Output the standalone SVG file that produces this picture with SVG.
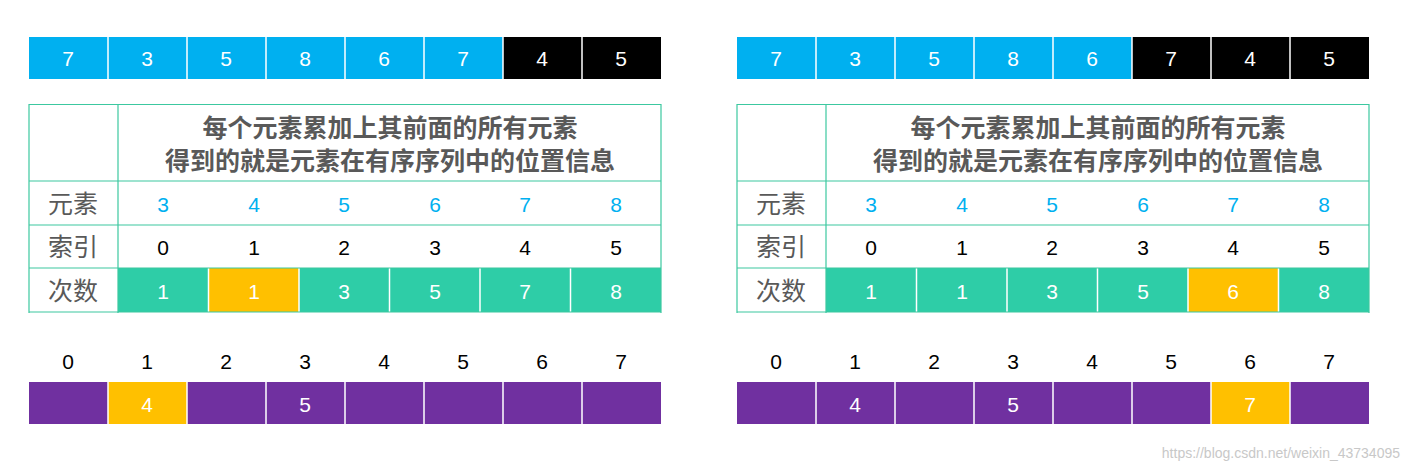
<svg xmlns="http://www.w3.org/2000/svg" width="1415" height="471" viewBox="0 0 1415 471">
<style>
text{font-family:"Liberation Sans","Noto Sans CJK SC",sans-serif;text-anchor:middle;dominant-baseline:central}
.n{font-size:21px;fill:#fff}
.b{font-size:21px;fill:#000}
.e{font-size:21px;fill:#00B0F0}
.l{font-size:25px;fill:#595959}
.h{font-size:25px;font-weight:bold;fill:#595959}
.g{stroke:#3CC8A0;stroke-width:1.2;fill:none}
.s{stroke:#fff;stroke-width:1.5}
</style>
<rect width="1415" height="471" fill="#fff"/>
<g id="left">
<g id="L-top">
<rect x="29" y="37" width="474" height="42" fill="#00B0F0"/><rect x="503" y="37" width="158" height="42" fill="#000"/>
<path class="s" d="M108 37V79M187 37V79M266 37V79M345 37V79M424 37V79M503 37V79M582 37V79"/>
<text class="n" x="68" y="58">7</text><text class="n" x="147" y="58">3</text><text class="n" x="226" y="58">5</text><text class="n" x="305" y="58">8</text><text class="n" x="384" y="58">6</text><text class="n" x="463" y="58">7</text><text class="n" x="542" y="58">4</text><text class="n" x="621" y="58">5</text>
</g>
<g id="L-table">
<rect x="118" y="268" width="543" height="44" fill="#2ECDA7"/><rect x="208.5" y="268" width="90.5" height="44" fill="#FFC000"/>
<path class="s" d="M208.5 268V312M299 268V312M389.5 268V312M480 268V312M570.5 268V312"/>
<path class="g" d="M29 104.5H661M29 181H661M29 225H661M29 268H661M29 312H661M29 104V313M118 104V313M661 104V313"/>
<text class="h" x="390" y="128">每个元素累加上其前面的所有元素</text>
<text class="h" x="390" y="161">得到的就是元素在有序序列中的位置信息</text>
<text class="l" x="73" y="204">元素</text><text class="l" x="73" y="247">索引</text><text class="l" x="73" y="291">次数</text>
<text class="e" x="163" y="204">3</text><text class="e" x="254" y="204">4</text><text class="e" x="344" y="204">5</text><text class="e" x="435" y="204">6</text><text class="e" x="525" y="204">7</text><text class="e" x="616" y="204">8</text>
<text class="b" x="163" y="247">0</text><text class="b" x="254" y="247">1</text><text class="b" x="344" y="247">2</text><text class="b" x="435" y="247">3</text><text class="b" x="525" y="247">4</text><text class="b" x="616" y="247">5</text>
<text class="n" x="163" y="291">1</text><text class="n" x="254" y="291">1</text><text class="n" x="344" y="291">3</text><text class="n" x="435" y="291">5</text><text class="n" x="525" y="291">7</text><text class="n" x="616" y="291">8</text>
</g>
<g id="L-bottom">
<text class="b" x="68" y="361">0</text><text class="b" x="147" y="361">1</text><text class="b" x="226" y="361">2</text><text class="b" x="305" y="361">3</text><text class="b" x="384" y="361">4</text><text class="b" x="463" y="361">5</text><text class="b" x="542" y="361">6</text><text class="b" x="621" y="361">7</text>
<rect x="29" y="382" width="632" height="42" fill="#7030A0"/><rect x="108" y="382" width="79" height="42" fill="#FFC000"/>
<path class="s" d="M108 382V424M187 382V424M266 382V424M345 382V424M424 382V424M503 382V424M582 382V424"/>
<text class="n" x="147" y="404">4</text><text class="n" x="305" y="404">5</text>
</g>
</g>
<g id="right" transform="translate(708,0)">
<g id="R-top">
<rect x="29" y="37" width="395" height="42" fill="#00B0F0"/><rect x="424" y="37" width="237" height="42" fill="#000"/>
<path class="s" d="M108 37V79M187 37V79M266 37V79M345 37V79M424 37V79M503 37V79M582 37V79"/>
<text class="n" x="68" y="58">7</text><text class="n" x="147" y="58">3</text><text class="n" x="226" y="58">5</text><text class="n" x="305" y="58">8</text><text class="n" x="384" y="58">6</text><text class="n" x="463" y="58">7</text><text class="n" x="542" y="58">4</text><text class="n" x="621" y="58">5</text>
</g>
<g id="R-table">
<rect x="118" y="268" width="543" height="44" fill="#2ECDA7"/><rect x="480" y="268" width="90.5" height="44" fill="#FFC000"/>
<path class="s" d="M208.5 268V312M299 268V312M389.5 268V312M480 268V312M570.5 268V312"/>
<path class="g" d="M29 104.5H661M29 181H661M29 225H661M29 268H661M29 312H661M29 104V313M118 104V313M661 104V313"/>
<text class="h" x="390" y="128">每个元素累加上其前面的所有元素</text>
<text class="h" x="390" y="161">得到的就是元素在有序序列中的位置信息</text>
<text class="l" x="73" y="204">元素</text><text class="l" x="73" y="247">索引</text><text class="l" x="73" y="291">次数</text>
<text class="e" x="163" y="204">3</text><text class="e" x="254" y="204">4</text><text class="e" x="344" y="204">5</text><text class="e" x="435" y="204">6</text><text class="e" x="525" y="204">7</text><text class="e" x="616" y="204">8</text>
<text class="b" x="163" y="247">0</text><text class="b" x="254" y="247">1</text><text class="b" x="344" y="247">2</text><text class="b" x="435" y="247">3</text><text class="b" x="525" y="247">4</text><text class="b" x="616" y="247">5</text>
<text class="n" x="163" y="291">1</text><text class="n" x="254" y="291">1</text><text class="n" x="344" y="291">3</text><text class="n" x="435" y="291">5</text><text class="n" x="525" y="291">6</text><text class="n" x="616" y="291">8</text>
</g>
<g id="R-bottom">
<text class="b" x="68" y="361">0</text><text class="b" x="147" y="361">1</text><text class="b" x="226" y="361">2</text><text class="b" x="305" y="361">3</text><text class="b" x="384" y="361">4</text><text class="b" x="463" y="361">5</text><text class="b" x="542" y="361">6</text><text class="b" x="621" y="361">7</text>
<rect x="29" y="382" width="632" height="42" fill="#7030A0"/><rect x="503" y="382" width="79" height="42" fill="#FFC000"/>
<path class="s" d="M108 382V424M187 382V424M266 382V424M345 382V424M424 382V424M503 382V424M582 382V424"/>
<text class="n" x="147" y="404">4</text><text class="n" x="305" y="404">5</text><text class="n" x="542" y="404">7</text>
</g>
</g>
<text x="1400" y="453" style="font-size:14px;fill:#c8c8c8;text-anchor:end">https://blog.csdn.net/weixin_43734095</text>
</svg>
